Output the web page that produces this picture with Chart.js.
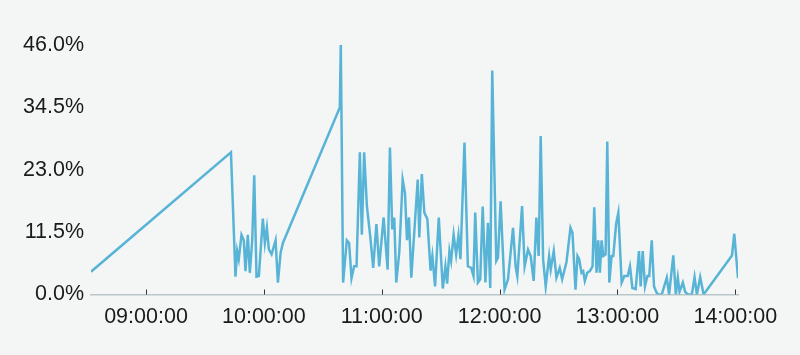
<!DOCTYPE html>
<html><head><meta charset="utf-8">
<script src="https://cdn.jsdelivr.net/npm/chart.js@4.4.1/dist/chart.umd.min.js"></script>
<style>html,body{margin:0;padding:0;background:#f4f6f6;}canvas{display:block}</style>
</head><body>
<canvas id="c" width="800" height="355"></canvas>
<script>
const times = [
"08:32:00","09:43:15","09:45:33","09:46:25","09:47:14","09:48:37","09:49:47","09:50:39","09:51:50","09:52:51",
"09:54:05","09:55:06","09:56:16","09:57:27","09:59:29","10:00:31","10:01:32","10:02:33","10:03:56","10:05:58",
"10:07:09","10:08:32","10:09:42","10:38:40","10:39:10","10:40:20","10:42:14","10:43:24","10:44:38","10:45:57",
"10:47:11","10:48:52","10:49:53","10:51:04","10:52:27","10:54:08","10:55:40","10:57:18","10:58:43","11:00:58",
"11:03:01","11:04:11","11:05:22","11:06:23","11:07:24","11:08:56","11:10:40","11:11:51","11:12:52","11:13:53",
"11:15:04","11:18:20","11:19:09","11:20:25","11:21:42","11:23:14","11:24:52","11:25:47","11:27:10","11:29:03",
"11:31:06","11:32:26","11:33:18","11:34:28","11:35:20","11:36:37","11:37:53","11:39:04","11:40:05","11:42:08",
"11:43:52","11:45:33","11:46:44","11:47:36","11:48:58","11:50:09","11:51:25","11:52:48","11:54:05","11:55:15",
"11:56:16","11:58:19","11:59:11","12:00:31","12:02:33","12:04:18","12:06:51","12:08:10","12:09:02","12:11:27",
"12:12:46","12:14:30","12:15:50","12:17:22","12:18:44","12:19:55","12:20:56","12:22:10","12:23:29","12:25:14",
"12:26:02","12:27:35","12:28:57","12:30:38","12:31:52","12:34:04","12:36:06","12:37:07","12:38:39","12:39:40",
"12:40:32","12:41:43","12:42:35","12:43:24","12:44:38","12:45:58","12:47:20","12:48:12","12:49:23","12:50:15",
"12:51:04","12:51:56","12:52:48","12:53:58","12:54:50","12:55:52","12:57:02","12:57:54","12:59:20","13:00:28",
"13:02:09","13:03:31","13:05:13","13:06:23","13:07:37","13:09:17","13:10:59","13:11:50","13:12:52","13:14:02",
"13:15:16","13:16:11","13:17:28","13:18:38","13:20:01","13:21:02","13:22:34","13:25:08","13:26:18","13:28:27",
"13:29:43","13:30:45","13:31:37","13:33:18","13:34:28","13:35:51","13:37:54","13:39:16","13:40:27","13:42:08",
"13:43:52","13:58:19","13:59:29","14:01:23"
];
const values = [
4.2,26.2,3.3,8,6.5,11,10,4.3,11,4,
10,22,3.3,3.4,14,9.5,12.3,8.3,7.4,10,
2.2,7.7,9.5,34.5,46.2,2.2,10,9.5,3,5.2,
5.2,26.2,11,26.2,16.3,10.8,4.9,13,5.2,14.2,
4.6,27.1,12,14.2,2.2,7.7,21.2,18.7,10,14.2,
3.1,21.2,10.5,22.2,15.1,13.9,4.4,7.1,1.5,14.2,
1.1,5.2,2,8,6.2,11,7.4,10.9,6.5,28,
5.2,4.9,3.4,15.1,2.2,2.8,16.2,2.2,13.2,1.2,
41.3,6.2,6.8,17.2,0.9,2.8,12.3,5.2,3.4,16.3,
5.2,8.3,7.1,2.5,14.2,7.1,29.2,6.5,1.5,7.1,
4.6,8,3.1,4.9,2.8,6,12.3,11.4,0.9,7.1,
6.5,4,4.3,2.5,4,4.3,5.2,16.1,4,10,
4,10,7.1,7.4,28.2,2.2,7.1,7.1,13,15.1,
2.2,3.4,3.4,5.2,1.2,1,8,1.5,8,1.5,
3.4,3.4,10,1.5,0.3,0,0,3.1,0,7.2,
0,3.1,0.5,2.2,0.5,0,0,3.2,0,3.2,
0,7.2,11.2,3
];
const yTicks = [0, 11.5, 23, 34.5, 46];
const xTickLabels = ["09:00:00","10:00:00","11:00:00","12:00:00","13:00:00","14:00:00"];

const toMin = s => { const p = s.split(':').map(Number); return p[0]*60 + p[1] + (p[2]||0)/60; };
const pad2 = n => String(n).padStart(2,'0');
const fmtMin = v => { const h = Math.floor(v/60), m = Math.round(v - h*60); return pad2(h)+':'+pad2(m)+':00'; };

const points = times.map((t,i) => ({x: toMin(t), y: values[i]}));

const innerTicks = {
  id: 'innerTicks',
  afterDatasetsDraw(chart) {
    const s = chart.scales.x, ctx = chart.ctx;
    ctx.save();
    ctx.strokeStyle = '#333';
    ctx.lineWidth = 1;
    s.ticks.forEach(t => {
      const px = Math.round(s.getPixelForValue(t.value)) + 0.5;
      ctx.beginPath();
      ctx.moveTo(px, s.top);
      ctx.lineTo(px, s.top - 5);
      ctx.stroke();
    });
    ctx.restore();
  }
};

const FONT = { family: '"Liberation Sans", Arial, sans-serif', size: 21.5 };

new Chart(document.getElementById('c'), {
  type: 'line',
  data: { datasets: [{
    data: points,
    borderColor: '#58b4d6',
    borderWidth: 2.5,
    pointRadius: 0,
    tension: 0,
    fill: false
  }]},
  options: {
    responsive: false,
    animation: false,
    devicePixelRatio: 1,
    layout: { padding: { top: 45, right: 62, left: 0, bottom: 0 } },
    plugins: { legend: { display: false }, tooltip: { enabled: false } },
    scales: {
      x: {
        type: 'linear',
        min: points[0].x,
        max: points[points.length-1].x,
        afterBuildTicks: s => { s.ticks = xTickLabels.map(l => ({value: toMin(l)})); },
        afterFit: s => { s.height = 60.5; },
        grid: { display: false, drawTicks: false },
        border: { display: true, color: '#b9c5c7', width: 1.5 },
        ticks: {
          autoSkip: false, maxRotation: 0, padding: 10,
          color: '#1a1a1a',
          font: FONT,
          callback: v => fmtMin(v)
        }
      },
      y: {
        min: 0, max: 46,
        afterBuildTicks: s => { s.ticks = yTicks.map(v => ({value: v})); },
        afterFit: s => { s.width = 91; },
        grid: { display: false, drawTicks: false },
        border: { display: false },
        ticks: {
          padding: 7,
          color: '#1a1a1a',
          font: FONT,
          callback: v => v.toFixed(1) + '%'
        }
      }
    }
  },
  plugins: [innerTicks]
});
</script>
</body></html>
